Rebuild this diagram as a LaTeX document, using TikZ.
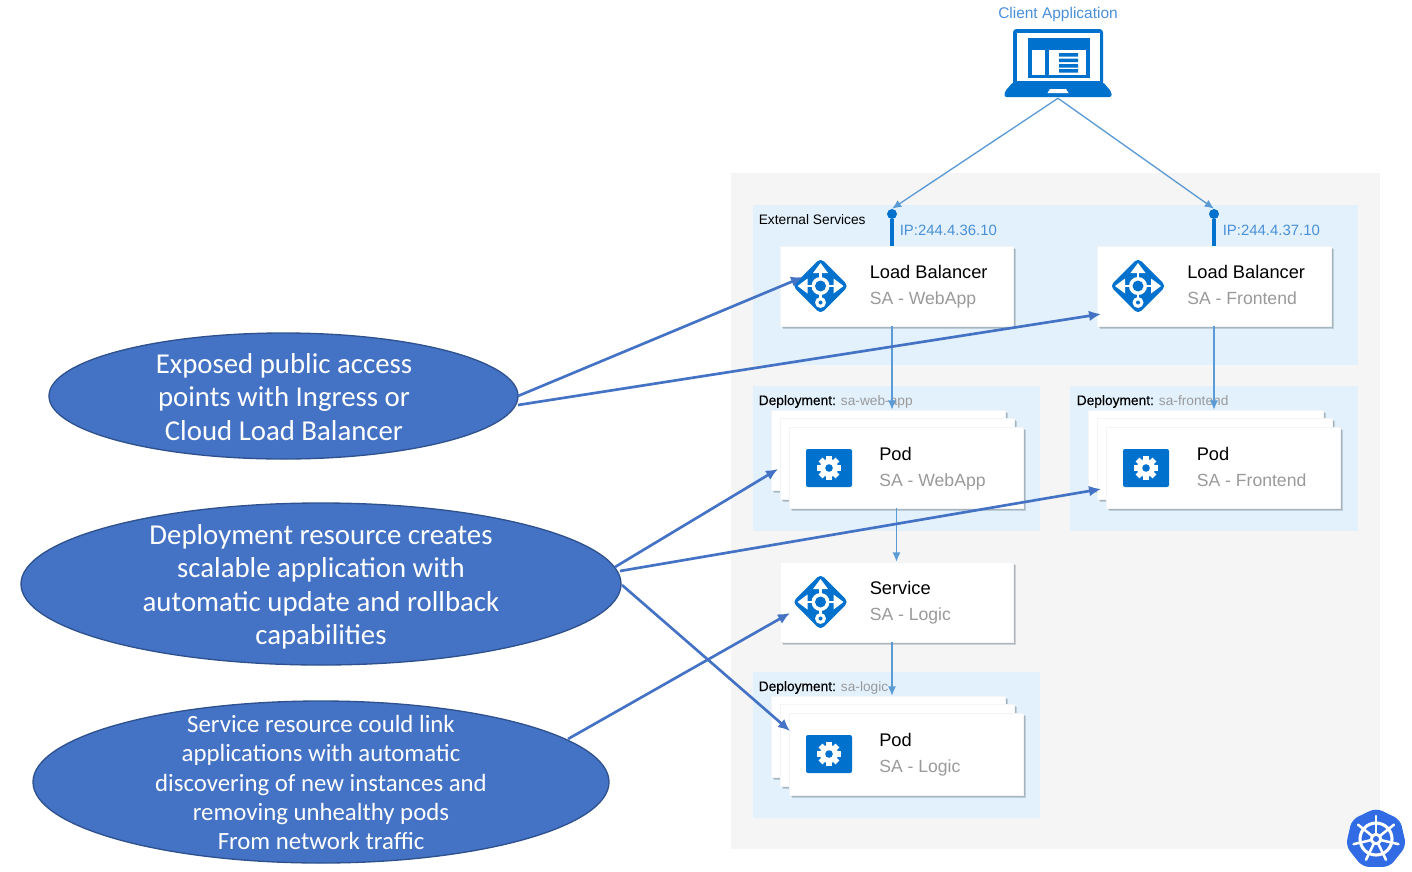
\documentclass[tikz,border=0pt]{standalone}
\usepackage{fontspec}
\setmainfont{Liberation Sans}
\newfontfamily\ellfont{Carlito}
\newfontfamily\medfont{Liberation Sans}[FakeBold=0.35]
\usetikzlibrary{arrows.meta,fit,shapes.geometric,shadows}
\definecolor{azure}{HTML}{0072CE}
\definecolor{panelblue}{HTML}{E3F1FC}
\definecolor{panelgrey}{HTML}{F5F5F5}
\definecolor{wirelight}{HTML}{5B9BD5}
\definecolor{wirebold}{HTML}{4472C4}
\definecolor{ellborder}{HTML}{2F528F}
\definecolor{subgrey}{HTML}{9A9A9A}
\definecolor{iptext}{HTML}{4A90D9}
\definecolor{kube}{HTML}{326CE5}
\definecolor{shadowtone}{HTML}{50606E}
\tikzset{
  x=0.75pt,y=-0.75pt,
  panel/.style={fill=panelblue,draw=none,inner sep=0pt},
  card/.style={fill=white,draw=shadowtone!7,line width=.35pt,inner sep=0pt,
    general shadow={shadow xshift=2.6pt,shadow yshift=-2.6pt,fill=shadowtone,opacity=.10},
    general shadow={shadow xshift=1.9pt,shadow yshift=-1.9pt,fill=shadowtone,opacity=.16},
    general shadow={shadow xshift=1.2pt,shadow yshift=-1.2pt,fill=shadowtone,opacity=.22}},
  titletext/.style={anchor=base west,inner sep=0pt,text=black,font=\fontsize{13.7pt}{16pt}\selectfont},
  subtext/.style={anchor=base west,inner sep=0pt,text=subgrey,font=\fontsize{13.2pt}{16pt}\selectfont},
  smalltext/.style={anchor=base west,inner sep=0pt,text=black,font=\fontsize{10.3pt}{12pt}\selectfont},
  iplabel/.style={anchor=base west,inner sep=0pt,text=iptext,font=\fontsize{11.2pt}{12pt}\selectfont},
  wire/.style={draw=wirelight,line width=1pt,-{Latex[length=7pt,width=6pt]}},
  boldwire/.style={draw=wirebold,line width=2pt,-{Latex[length=9pt,width=8pt]}},
  callout/.style={ellipse,fill=wirebold,draw=ellborder,line width=1pt,inner sep=0pt},
  callouttext/.style={inner sep=0pt,text=white,align=center,font=\ellfont\fontsize{21.6pt}{25.1pt}\selectfont},
  pinhead/.style={circle,fill=azure,draw=none,inner sep=0pt,minimum size=7.5pt},
  lbicon/.pic={
    \fill[azure,rounded corners=3.5pt] (-28,0) -- (0,-28) -- (28,0) -- (0,28) -- cycle;
    \draw[white,line width=2pt] (-19,0) -- (19,0) (0,-19) -- (0,14);
    \fill[white] (0,-23) -- (-7.5,-13) -- (7.5,-13) -- cycle;
    \fill[white] (-23,0) -- (-13,-7.5) -- (-13,7.5) -- cycle;
    \fill[white] (23,0) -- (13,-7.5) -- (13,7.5) -- cycle;
    \fill[white] (0,0) circle[radius=9];
    \fill[azure] (0,0) circle[radius=5.5];
    \fill[white] (0,16.5) circle[radius=5.5];
    \fill[azure] (0,16.5) circle[radius=2];
  },
  gearicon/.pic={
    \fill[azure,rounded corners=1.5pt] (-23,-19) rectangle (23,19);
    \foreach \a in {0,45,...,315}{
      \fill[white,rotate=\a] (-2.8,-12) rectangle (2.8,-7);
    }
    \fill[white] (0,0) circle[radius=9];
    \fill[azure] (0,0) circle[radius=3.8];
  }
}
\begin{document}
\begin{tikzpicture}
\useasboundingbox (0,0) rectangle (1412,871);
\fill[white] (0,0) rectangle (1412,871);

% panels
\node[fit={(731,173)(1380,849)},fill=panelgrey,inner sep=0pt] (cluster) {};
\node[panel,fit={(753,205)(1358,365)}] (ext) {};
\node[panel,fit={(753,386)(1040,531)}] (dep1) {};
\node[panel,fit={(1070,386)(1358,531)}] (dep2) {};
\node[panel,fit={(753,672)(1040,818)}] (dep3) {};

% panel labels
\node[smalltext] (extlabel) at (758.5,224) {External Services};
\node[smalltext] (dep1label) at (758.5,405) {{\medfont Deployment:} \textcolor{subgrey}{sa-web-app}};
\node[smalltext] (dep2label) at (1076.5,405) {{\medfont Deployment:} \textcolor{subgrey}{sa-frontend}};
\node[smalltext] (dep3label) at (758.5,691) {{\medfont Deployment:} \textcolor{subgrey}{sa-logic}};

% load balancers
\node[card,fit={(780,246)(1013,326)}] (lb1) {};
\node[card,fit={(1097,246)(1331,326)}] (lb2) {};
\pic at (820.5,286) {lbicon};
\pic at (1138,286) {lbicon};
\node[titletext] (lb1t) at (869.5,278.5) {Load Balancer};
\node[subtext] (lb1s) at (869.5,304.5) {SA - WebApp};
\node[titletext] (lb2t) at (1187,278.5) {Load Balancer};
\node[subtext] (lb2s) at (1187,304.5) {SA - Frontend};

% pods webapp
\node[card,fit={(771,410)(1005,490)}] (pod1c) {};
\node[card,fit={(780,418)(1014,499)}] (pod1b) {};
\node[card,fit={(789,427)(1023,508)}] (pod1) {};
\pic at (829,468) {gearicon};
\node[titletext] (pod1t) at (879,460) {Pod};
\node[subtext] (pod1s) at (879,486.5) {SA - WebApp};

% pods frontend
\node[card,fit={(1088,410)(1323,490)}] (pod2c) {};
\node[card,fit={(1097,418)(1332,499)}] (pod2b) {};
\node[card,fit={(1106,427)(1340,508)}] (pod2) {};
\pic at (1146,468) {gearicon};
\node[titletext] (pod2t) at (1196.5,460) {Pod};
\node[subtext] (pod2s) at (1196.5,486.5) {SA - Frontend};

% service
\node[card,fit={(780,562)(1013,642)}] (svc) {};
\pic at (820.5,602) {lbicon};
\node[titletext] (svct) at (869.5,594.5) {Service};
\node[subtext] (svcs) at (869.5,620.5) {SA - Logic};

% pods logic
\node[card,fit={(771,696)(1005,777)}] (pod3c) {};
\node[card,fit={(780,704)(1014,786)}] (pod3b) {};
\node[card,fit={(789,713)(1023,795)}] (pod3) {};
\pic at (829,754) {gearicon};
\node[titletext] (pod3t) at (879,746) {Pod};
\node[subtext] (pod3s) at (879,772.5) {SA - Logic};

% client
\node[anchor=base,inner sep=0pt,text=iptext,font=\fontsize{11.6pt}{13pt}\selectfont] (clientlabel) at (1058,18.5) {Client Application};
\node[fit={(1005,29)(1111,98)},inner sep=0pt] (laptop) {};
\fill[azure,rounded corners=2.5pt] (1013,29) rectangle (1103,86);
\fill[white] (1016.5,33) rectangle (1099.5,81);
\fill[azure] (1028,38) rectangle (1090,78);
\fill[white] (1032,50) rectangle (1045,75);
\fill[white] (1049,50) rectangle (1086,75);
\fill[azure] (1059,53) rectangle (1078,56.5) (1059,58.5) rectangle (1078,62) (1059,64) rectangle (1078,67.5) (1059,69) rectangle (1078,72.5);
\fill[azure,rounded corners=1.5pt] (1013,82) -- (1103,82) -- (1111.5,92) -- (1111.5,97) -- (1004.5,97) -- (1004.5,92) -- cycle;
\fill[white] (1050,89) -- (1066,89) -- (1068.5,93) -- (1047.5,93) -- cycle;

% pins
\node[pinhead] (pin1) at (892,214) {};
\node[pinhead] (pin2) at (1214,214) {};
\draw[azure,line width=2.4pt] (pin1) -- (pin1 |- lb1.north);
\draw[azure,line width=2.4pt] (pin2) -- (pin2 |- lb2.north);
\node[iplabel] (ip1) at (899.5,235) {IP:244.4.36.10};
\node[iplabel] (ip2) at (1222.5,235) {IP:244.4.37.10};

% light connectors
\draw[wire] (laptop.south) -- (pin1.north);
\draw[wire] (laptop.south) -- (pin2.north);
\draw[wire] (pin1 |- lb1.south) -- (pin1 |- pod1c.north);
\draw[wire] (pin2 |- lb2.south) -- (pin2 |- pod2c.north);
\draw[wire] (dep1.center |- pod1.south) -- (dep1.center |- svc.north);
\draw[wire] (pin1 |- svc.south) -- (pin1 |- pod3c.north);

% kubernetes mark
\begin{scope}[shift={(1376,839)}]
  \fill[kube,rounded corners=5pt] (270:31) -- (321.43:31) -- (12.86:31) -- (64.29:31) -- (115.71:31) -- (167.14:31) -- (218.57:31) -- cycle;
  \draw[white,line width=2.3pt] (0,0) circle[radius=16];
  \foreach \a in {270,321.43,12.86,64.29,115.71,167.14,218.57}{
    \draw[white,line width=1.9pt,line cap=round] (\a:5) -- (\a:23);
  }
  \fill[white] (0,0) circle[radius=6];
  \fill[kube] (0,0) circle[radius=3];
\end{scope}

% callouts
\node[callout,minimum width=351.75pt,minimum height=94.5pt] (ell1) at (283.5,396) {};
\node[callout,minimum width=450pt,minimum height=121.5pt] (ell2) at (321,584) {};
\node[callout,minimum width=432pt,minimum height=121.5pt] (ell3) at (321,782) {};
\node[callouttext] (ell1t) at (284,397) {Exposed public access\\points with Ingress or\\Cloud Load Balancer};
\node[callouttext] (ell2t) at (321,587) {Deployment resource creates\\scalable application with\\automatic update and rollback\\capabilities};
\node[callouttext,font=\ellfont\fontsize{18.6pt}{21.8pt}\selectfont] (ell3t) at (321,782.5) {Service resource could link\\applications with automatic\\discovering of new instances and\\removing unhealthy pods\\From network traffic};

% bold connectors
\coordinate (e1a) at (518,396);
\coordinate (e1b) at (518,405);
\coordinate (e2a) at (615,567);
\coordinate (e2b) at (620,571);
\coordinate (e2c) at (622,585);
\coordinate (e3a) at (568,739);
\coordinate (lb1in) at (803,277);
\coordinate (lb2in) at (1101,314);
\coordinate (pod1in) at (778,469);
\coordinate (pod2in) at (1101,489);
\coordinate (pod3in) at (790,731);
\coordinate (svcin) at (790,613);
\draw[boldwire] (e1a) -- (lb1in);
\draw[boldwire] (e1b) -- (lb2in);
\draw[boldwire] (e2a) -- (pod1in);
\draw[boldwire] (e2b) -- (pod2in);
\draw[boldwire] (e2c) -- (pod3in);
\draw[boldwire] (e3a) -- (svcin);
\end{tikzpicture}
\end{document}
